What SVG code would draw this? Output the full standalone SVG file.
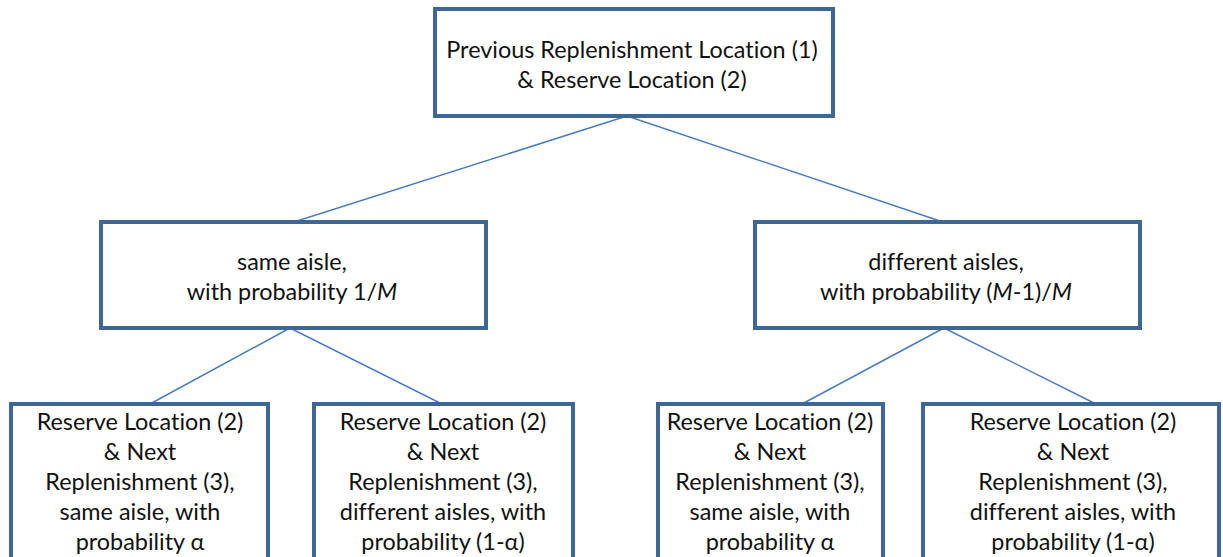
<svg xmlns="http://www.w3.org/2000/svg" width="1223" height="557" viewBox="0 0 1223 557">
  <style>
    .box { fill: #ffffff; stroke: #3f6796; stroke-width: 4; }
    .link { stroke: #4a7ebb; stroke-width: 1.5; fill: none; }
    text { font-family: Lato, "Liberation Sans", sans-serif; font-size: 23.4px; fill: #111111; text-anchor: middle; font-variant-ligatures: none; }
  </style>
  <rect width="1223" height="557" fill="#ffffff"/>

  <g id="connectors">
    <line class="link" x1="627" y1="116" x2="297" y2="221"/>
    <line class="link" x1="627" y1="116" x2="940" y2="221"/>
    <line class="link" x1="290" y1="328" x2="150" y2="404"/>
    <line class="link" x1="290" y1="328" x2="442" y2="404"/>
    <line class="link" x1="944" y1="328" x2="802" y2="404"/>
    <line class="link" x1="944" y1="328" x2="1096" y2="404"/>
  </g>

  <g id="root">
    <rect class="box" x="435" y="9" width="398" height="107"/>
    <text x="632" y="58">Previous Replenishment Location (1)</text>
    <text x="632" y="88">&amp; Reserve Location (2)</text>
  </g>

  <g id="same-aisle">
    <rect class="box" x="101" y="222" width="385" height="106"/>
    <text x="292" y="270">same aisle,</text>
    <text x="292" y="300">with probability 1/<tspan font-style="italic">M</tspan></text>
  </g>

  <g id="different-aisles">
    <rect class="box" x="755" y="222" width="385" height="106"/>
    <text x="946" y="270">different aisles,</text>
    <text x="946" y="300">with probability (<tspan font-style="italic">M</tspan>-1)/<tspan font-style="italic">M</tspan></text>
  </g>

  <g id="same-same">
    <rect class="box" x="11" y="404" width="257" height="170"/>
    <text x="140" y="430">Reserve Location (2)</text>
    <text x="140" y="460">&amp; Next</text>
    <text x="140" y="490">Replenishment (3),</text>
    <text x="140" y="520">same aisle, with</text>
    <text x="140" y="550">probability α</text>
  </g>

  <g id="same-different">
    <rect class="box" x="314" y="404" width="259" height="170"/>
    <text x="443" y="430">Reserve Location (2)</text>
    <text x="443" y="460">&amp; Next</text>
    <text x="443" y="490">Replenishment (3),</text>
    <text x="443" y="520">different aisles, with</text>
    <text x="443" y="550">probability (1-α)</text>
  </g>

  <g id="different-same">
    <rect class="box" x="658" y="404" width="225" height="170"/>
    <text x="770" y="430">Reserve Location (2)</text>
    <text x="770" y="460">&amp; Next</text>
    <text x="770" y="490">Replenishment (3),</text>
    <text x="770" y="520">same aisle, with</text>
    <text x="770" y="550">probability α</text>
  </g>

  <g id="different-different">
    <rect class="box" x="923" y="404" width="296" height="170"/>
    <text x="1073" y="430">Reserve Location (2)</text>
    <text x="1073" y="460">&amp; Next</text>
    <text x="1073" y="490">Replenishment (3),</text>
    <text x="1073" y="520">different aisles, with</text>
    <text x="1073" y="550">probability (1-α)</text>
  </g>
</svg>
